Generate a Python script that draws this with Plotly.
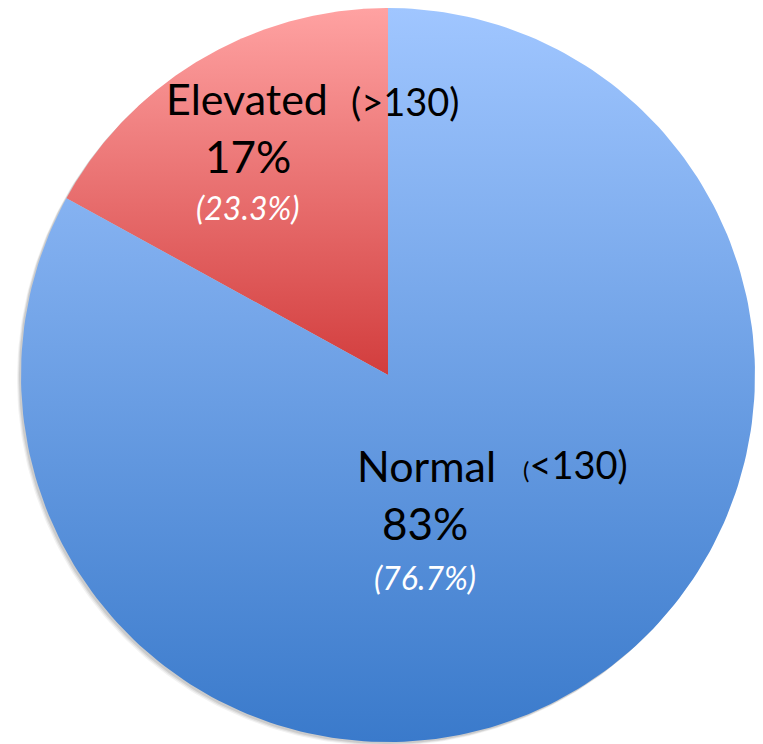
import numpy as np
import plotly.graph_objects as go

# Share of readings by blood-pressure category
categories = ["Elevated", "Normal"]
ranges = ["(>130)", "(<130)"]
shares = [17, 83]               # percent
reference_shares = [23.3, 76.7]  # percent, shown in brackets

# Colour ramps (bottom -> top) for each slice
gradients = {
    "Elevated": ["#d23d3d", "#ffa2a2"],
    "Normal": ["#3a7acb", "#a0c6ff"],
}

W, H = 763, 744
CX, CY, R = 388, 375, 367  # pie centre and radius in pixel units
FONT = "Lato, 'Open Sans', sans-serif"


def sector(start_frac, end_frac, n=240):
    """Polygon for a pie sector, measured counter-clockwise from 12 o'clock."""
    a0 = np.pi / 2 + 2 * np.pi * start_frac
    a1 = np.pi / 2 + 2 * np.pi * end_frac
    t = np.linspace(a0, a1, n)
    xs = np.concatenate([[CX], CX + R * np.cos(t), [CX]])
    ys = np.concatenate([[CY], CY - R * np.sin(t), [CY]])
    return xs, ys


fig = go.Figure()

# soft drop shadow under the disc
t = np.linspace(0, 2 * np.pi, 400)
for off, alpha in [(4, 0.05), (3, 0.07), (2, 0.09)]:
    fig.add_trace(go.Scatter(
        x=CX - off + R * np.cos(t), y=CY + off + R * np.sin(t),
        mode="lines", fill="toself", line=dict(width=0),
        fillcolor=f"rgba(0,0,0,{alpha})", hoverinfo="skip", showlegend=False,
    ))

cum = 0.0
for name, share in zip(categories, shares):
    frac = share / sum(shares)
    xs, ys = sector(cum, cum + frac)
    cum += frac
    lo, hi = gradients[name]
    fig.add_trace(go.Scatter(
        x=xs, y=ys, mode="lines", fill="toself", name=name,
        line=dict(width=0),
        fillgradient=dict(type="vertical", colorscale=[[0, lo], [1, hi]]),
        hoverinfo="name", showlegend=False,
    ))

# Slice labels
labels = {
    "Elevated": dict(name=(247, 98), rng=(405, 101), pct=(248, 156), ref=(248, 207)),
    "Normal": dict(name=(426, 465), rng=(575, 464), pct=(425, 523), ref=(425, 577)),
}
for name, rng, share, ref in zip(categories, ranges, shares, reference_shares):
    p = labels[name]
    rng_text = rng
    if name == "Normal":
        rng_text = "<span style='font-size:24px'>(</span>" + rng[1:]
    fig.add_annotation(x=p["name"][0], y=p["name"][1], text=name, showarrow=False,
                       font=dict(family=FONT, size=43, color="black"))
    fig.add_annotation(x=p["rng"][0], y=p["rng"][1], text=rng_text, showarrow=False,
                       font=dict(family=FONT, size=38, color="black"))
    fig.add_annotation(x=p["pct"][0], y=p["pct"][1], text=f"{share}%", showarrow=False,
                       font=dict(family=FONT, size=44, color="black"))
    fig.add_annotation(x=p["ref"][0], y=p["ref"][1], text=f"<i>({ref}%)</i>", showarrow=False,
                       font=dict(family=FONT, size=32, color="white"))

fig.update_layout(
    width=W, height=H,
    margin=dict(l=0, r=0, t=0, b=0),
    paper_bgcolor="white", plot_bgcolor="white",
    xaxis=dict(range=[0, W], visible=False, fixedrange=True),
    yaxis=dict(range=[H, 0], visible=False, fixedrange=True),
)

fig.write_html("out.html")
